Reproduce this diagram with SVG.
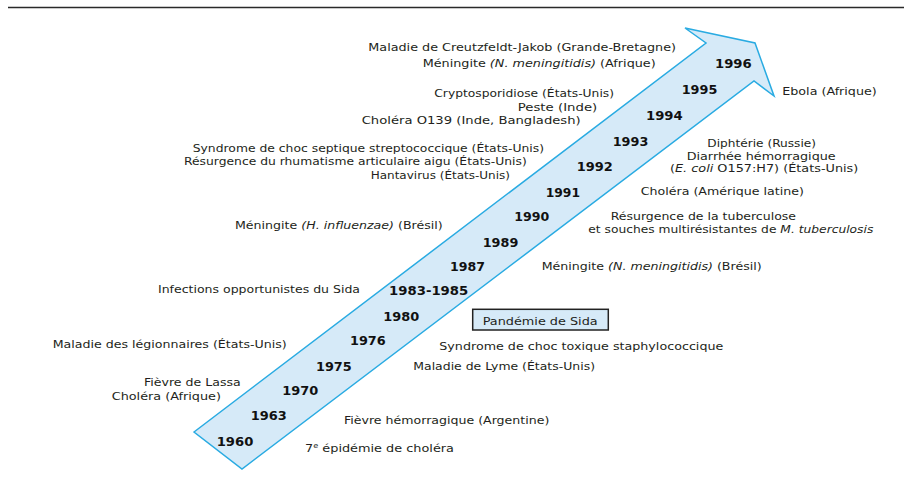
<svg xmlns="http://www.w3.org/2000/svg" width="904" height="483" viewBox="0 0 904 483">
<style>
.t{font-family:"DejaVu Sans","Liberation Sans",sans-serif;font-size:11px;fill:#231f20}
.y{font-family:"DejaVu Sans","Liberation Sans",sans-serif;font-size:13px;font-weight:bold;fill:#111}
.i{font-style:italic}
.arrow{fill:#d6eaf8;stroke:#29abe2;stroke-width:1.5;stroke-linejoin:miter}
.box{fill:#d6eaf8;stroke:#222;stroke-width:1.5}
</style>
<line x1="8" y1="7.5" x2="904" y2="7.5" stroke="#2a2a2a" stroke-width="1.5"/>
<g id="arrow">
<polygon class="arrow" points="194,432 706,43 685,28 755,43 774,96 754,81 242,469"/>
</g>
<g id="years">
<text class="y" x="216.7" y="446" textLength="36.6" lengthAdjust="spacingAndGlyphs">1960</text>
<text class="y" x="250.7" y="420" textLength="36" lengthAdjust="spacingAndGlyphs">1963</text>
<text class="y" x="282.3" y="395" textLength="36" lengthAdjust="spacingAndGlyphs">1970</text>
<text class="y" x="316" y="371" textLength="35.7" lengthAdjust="spacingAndGlyphs">1975</text>
<text class="y" x="350" y="345" textLength="35.7" lengthAdjust="spacingAndGlyphs">1976</text>
<text class="y" x="383.3" y="321" textLength="36" lengthAdjust="spacingAndGlyphs">1980</text>
<text class="y" x="389" y="295" textLength="79.3" lengthAdjust="spacingAndGlyphs">1983-1985</text>
<text class="y" x="450" y="271" textLength="35" lengthAdjust="spacingAndGlyphs">1987</text>
<text class="y" x="482.7" y="247" textLength="35.6" lengthAdjust="spacingAndGlyphs">1989</text>
<text class="y" x="514.3" y="221" textLength="35" lengthAdjust="spacingAndGlyphs">1990</text>
<text class="y" x="545.7" y="197" textLength="34.3" lengthAdjust="spacingAndGlyphs">1991</text>
<text class="y" x="576.7" y="171" textLength="36" lengthAdjust="spacingAndGlyphs">1992</text>
<text class="y" x="612.7" y="146" textLength="35.6" lengthAdjust="spacingAndGlyphs">1993</text>
<text class="y" x="646" y="120" textLength="36.7" lengthAdjust="spacingAndGlyphs">1994</text>
<text class="y" x="681.7" y="94" textLength="35.6" lengthAdjust="spacingAndGlyphs">1995</text>
<text class="y" x="715" y="68" textLength="36.7" lengthAdjust="spacingAndGlyphs">1996</text>
</g>
<g id="left-1996">
<text class="t" x="368.3" y="50.5" textLength="307.7" lengthAdjust="spacingAndGlyphs">Maladie de Creutzfeldt-Jakob (Grande-Bretagne)</text>
<text class="t" x="422.7" y="67" textLength="233" lengthAdjust="spacingAndGlyphs">Méningite <tspan class="i">(N. meningitidis)</tspan> (Afrique)</text>
</g>
<g id="left-1993">
<text class="t" x="434.3" y="97" textLength="179.7" lengthAdjust="spacingAndGlyphs">Cryptosporidiose (États-Unis)</text>
<text class="t" x="517.7" y="111" textLength="79.6" lengthAdjust="spacingAndGlyphs">Peste (Inde)</text>
<text class="t" x="361.7" y="124" textLength="219" lengthAdjust="spacingAndGlyphs">Choléra O139 (Inde, Bangladesh)</text>
</g>
<g id="left-1992">
<text class="t" x="192.7" y="152" textLength="351.3" lengthAdjust="spacingAndGlyphs">Syndrome de choc septique streptococcique (États-Unis)</text>
<text class="t" x="184" y="165" textLength="342.7" lengthAdjust="spacingAndGlyphs">Résurgence du rhumatisme articulaire aigu (États-Unis)</text>
<text class="t" x="370.7" y="179" textLength="139.3" lengthAdjust="spacingAndGlyphs">Hantavirus (États-Unis)</text>
</g>
<g id="left-1990">
<text class="t" x="235" y="229" textLength="207.7" lengthAdjust="spacingAndGlyphs">Méningite <tspan class="i">(H. influenzae)</tspan> (Brésil)</text>
</g>
<g id="left-1983">
<text class="t" x="158" y="293" textLength="202" lengthAdjust="spacingAndGlyphs">Infections opportunistes du Sida</text>
</g>
<g id="left-1976">
<text class="t" x="52.7" y="348" textLength="234" lengthAdjust="spacingAndGlyphs">Maladie des légionnaires (États-Unis)</text>
</g>
<g id="left-1970">
<text class="t" x="144" y="386" textLength="96.7" lengthAdjust="spacingAndGlyphs">Fièvre de Lassa</text>
<text class="t" x="111.7" y="400" textLength="109.3" lengthAdjust="spacingAndGlyphs">Choléra (Afrique)</text>
</g>
<g id="right-1995">
<text class="t" x="782.3" y="95" textLength="94.4" lengthAdjust="spacingAndGlyphs">Ebola (Afrique)</text>
</g>
<g id="right-1993">
<text class="t" x="707.3" y="147" textLength="108.7" lengthAdjust="spacingAndGlyphs">Diphtérie (Russie)</text>
<text class="t" x="686.7" y="160" textLength="149" lengthAdjust="spacingAndGlyphs">Diarrhée hémorragique</text>
<text class="t" x="670" y="172" textLength="188.3" lengthAdjust="spacingAndGlyphs">(<tspan class="i">E. coli</tspan> O157:H7) (États-Unis)</text>
</g>
<g id="right-1991">
<text class="t" x="640.7" y="195" textLength="163.3" lengthAdjust="spacingAndGlyphs">Choléra (Amérique latine)</text>
</g>
<g id="right-1990">
<text class="t" x="610.7" y="220" textLength="185.3" lengthAdjust="spacingAndGlyphs">Résurgence de la tuberculose</text>
<text class="t" x="588.3" y="233" textLength="285" lengthAdjust="spacingAndGlyphs">et souches multirésistantes de <tspan class="i">M. tuberculosis</tspan></text>
</g>
<g id="right-1987">
<text class="t" x="541.7" y="270" textLength="220" lengthAdjust="spacingAndGlyphs">Méningite <tspan class="i">(N. meningitidis)</tspan> (Brésil)</text>
</g>
<g id="pandemie">
<rect class="box" x="472.7" y="309.3" width="135.6" height="20.7"/>
<text class="t" x="482.7" y="324.5" textLength="115" lengthAdjust="spacingAndGlyphs">Pandémie de Sida</text>
</g>
<g id="right-1976">
<text class="t" x="439.3" y="350" textLength="284" lengthAdjust="spacingAndGlyphs">Syndrome de choc toxique staphylococcique</text>
</g>
<g id="right-1975">
<text class="t" x="413.3" y="370" textLength="181.7" lengthAdjust="spacingAndGlyphs">Maladie de Lyme (États-Unis)</text>
</g>
<g id="right-1963">
<text class="t" x="344" y="424" textLength="205.3" lengthAdjust="spacingAndGlyphs">Fièvre hémorragique (Argentine)</text>
</g>
<g id="right-1960">
<text class="t" x="305" y="452" textLength="149" lengthAdjust="spacingAndGlyphs">7<tspan font-size="7" dy="-4">e</tspan><tspan dy="4"> épidémie de choléra</tspan></text>
</g>
</svg>
